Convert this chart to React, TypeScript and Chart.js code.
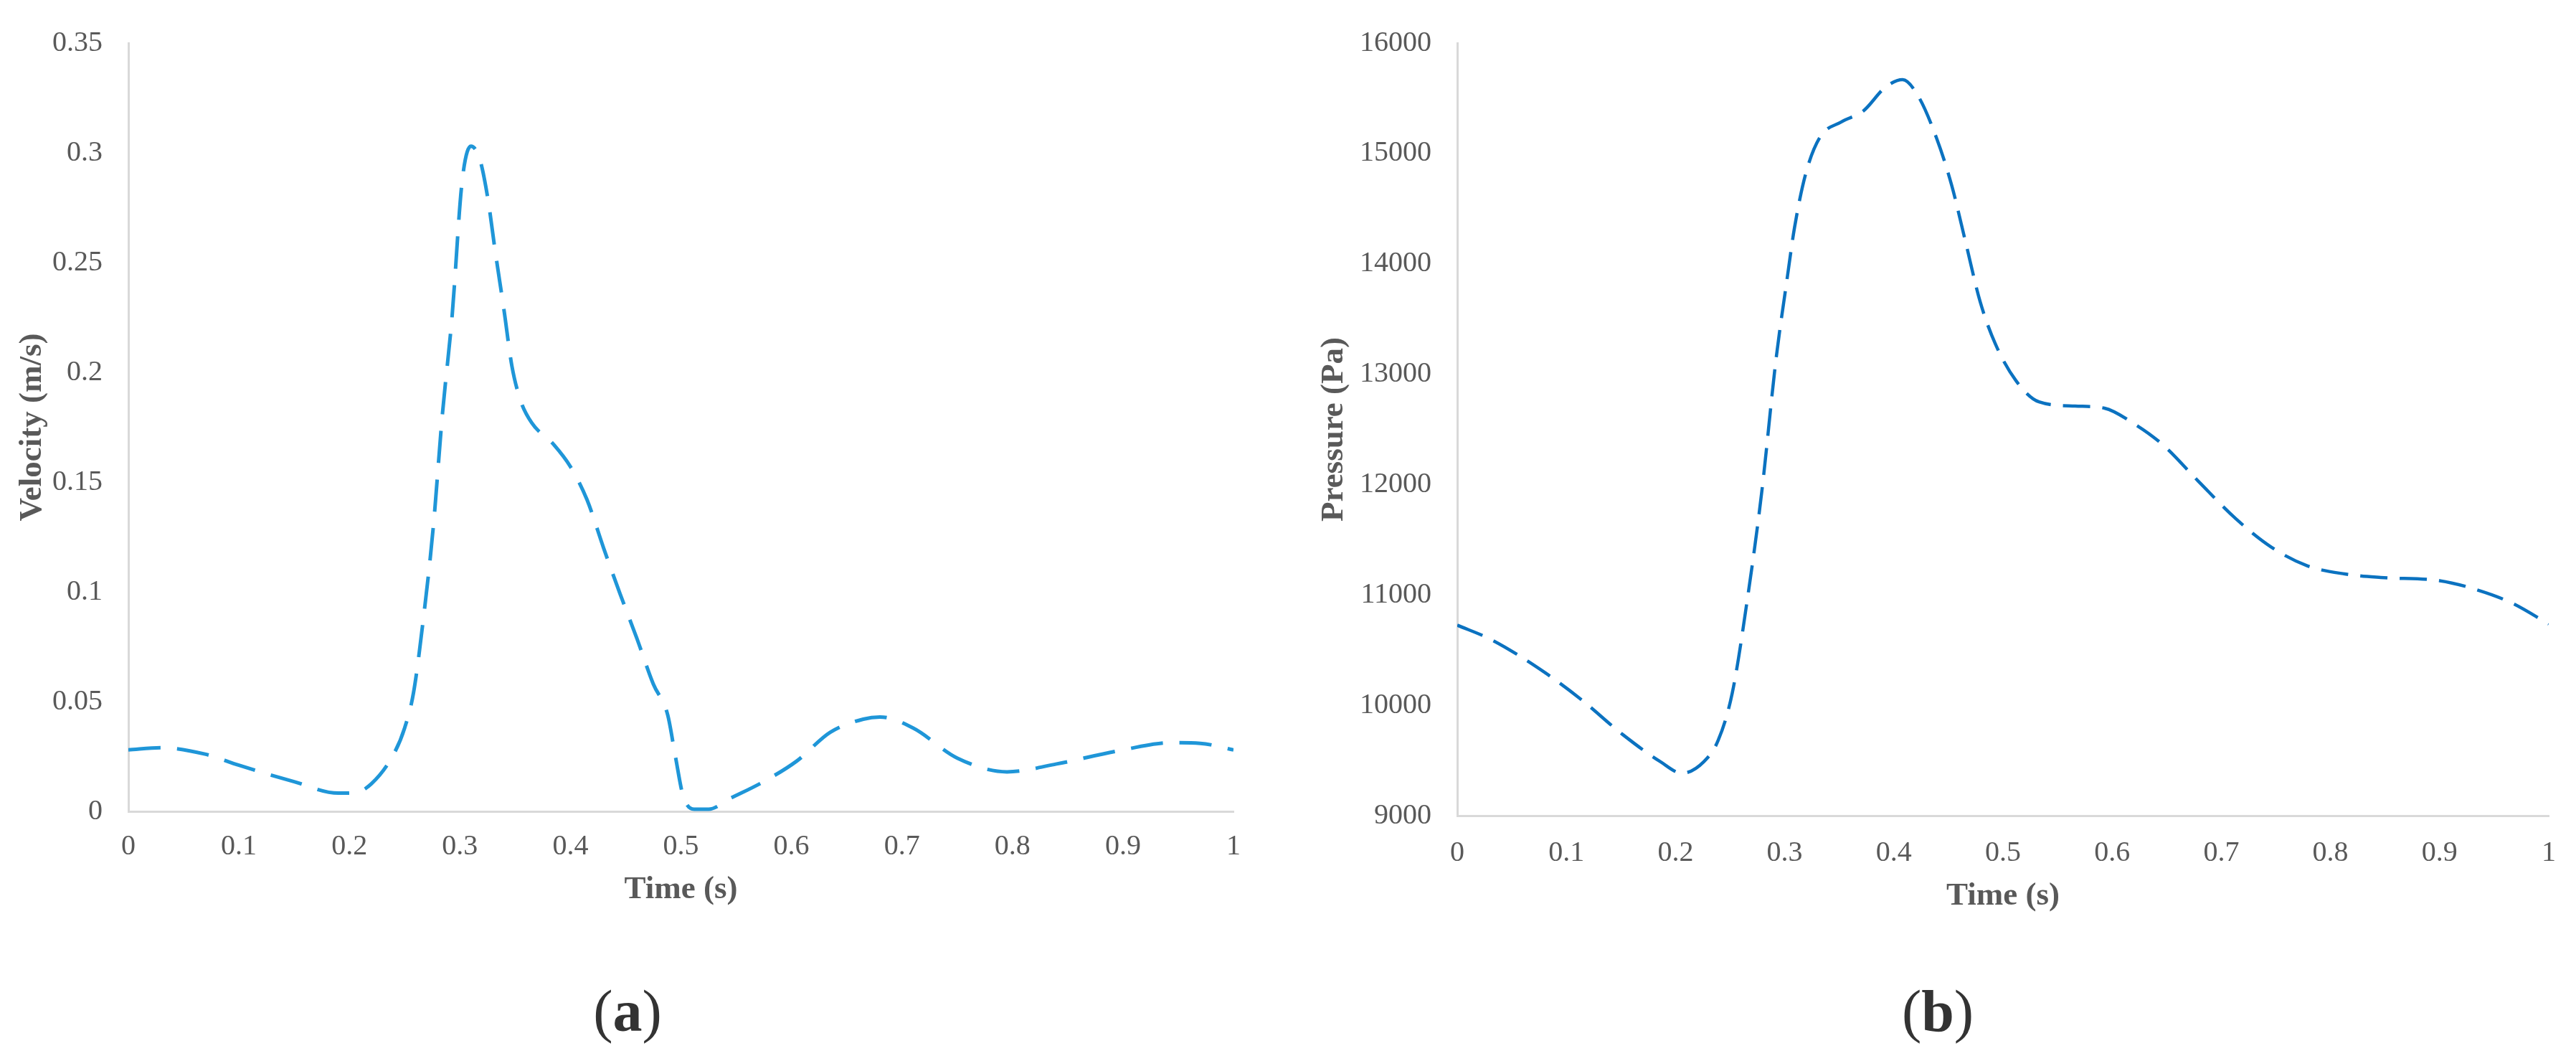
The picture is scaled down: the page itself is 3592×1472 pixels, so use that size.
import React, { useEffect, useRef } from "react";
import { Chart, registerables } from "chart.js";

Chart.register(...registerables);

// ---------- data ----------
const velocityTime = [
  0, 0.03, 0.07, 0.1, 0.15, 0.19, 0.205, 0.22, 0.24, 0.25, 0.258, 0.267, 0.276,
  0.284, 0.293, 0.302, 0.31, 0.318, 0.325, 0.332, 0.34, 0.347, 0.355, 0.365,
  0.385, 0.4, 0.415, 0.43, 0.445, 0.46, 0.475, 0.488, 0.495, 0.502, 0.512,
  0.525, 0.545, 0.575, 0.605, 0.635, 0.665, 0.68, 0.71, 0.75, 0.795, 0.84,
  0.895, 0.945, 0.97, 1.0,
];
const velocityValues = [
  0.028, 0.029, 0.026, 0.021, 0.0135, 0.0083, 0.0085, 0.0126, 0.026, 0.038,
  0.054, 0.088, 0.13, 0.18, 0.226, 0.287, 0.303, 0.297, 0.28, 0.255, 0.228,
  0.203, 0.187, 0.177, 0.167, 0.157, 0.142, 0.12, 0.099, 0.079, 0.058, 0.044,
  0.025, 0.007, 0.001, 0.001, 0.006, 0.0136, 0.023, 0.036, 0.042, 0.043, 0.038,
  0.0243, 0.018, 0.0216, 0.0275, 0.0313, 0.031, 0.028,
];

const pressureTime = [
  0, 0.032, 0.079, 0.112, 0.152, 0.186, 0.206, 0.226, 0.239, 0.252, 0.266,
  0.279, 0.292, 0.302, 0.309, 0.319, 0.332, 0.352, 0.372, 0.392, 0.408, 0.422,
  0.439, 0.453, 0.466, 0.479, 0.493, 0.512, 0.533, 0.566, 0.593, 0.619, 0.646,
  0.679, 0.713, 0.746, 0.779, 0.813, 0.846, 0.9, 0.933, 0.966, 1.0,
];
const pressureValues = [
  10726, 10591, 10305, 10065, 9732, 9490, 9385, 9490, 9681, 10113, 10975,
  11934, 13131, 13850, 14328, 14807, 15142, 15286, 15384, 15597, 15669, 15525,
  15142, 14711, 14185, 13659, 13274, 12940, 12749, 12711, 12692, 12558, 12364,
  12030, 11693, 11432, 11263, 11190, 11158, 11129, 11050, 10928, 10737,
];

const timeTickLabels = ["0", "0.1", "0.2", "0.3", "0.4", "0.5", "0.6", "0.7", "0.8", "0.9", "1"];
const velocityTickLabels = ["0", "0.05", "0.1", "0.15", "0.2", "0.25", "0.3", "0.35"];
const pressureTickLabels = ["9000", "10000", "11000", "12000", "13000", "14000", "15000", "16000"];

const xAxisTitle = "Time (s)";
const velocityTitle = "Velocity (m/s)";
const pressureTitle = "Pressure (Pa)";

// ---------- helpers ----------
const SERIF = "'Liberation Serif', 'Times New Roman', Times, serif";
const TICK_COLOR = "#595959";
const AXIS_COLOR = "#d9d9d9";

function labelFrom(list: string[]) {
  return (value: number | string) => {
    const v = Number(value);
    const hit = list.find((s) => Math.abs(Number(s) - v) < 1e-7 * Math.max(1, Math.abs(v)));
    return hit ?? "";
  };
}

interface PanelProps {
  left: number;
  width: number;
  height: number;
  times: number[];
  values: number[];
  color: string;
  lineWidth: number;
  dash: number[];
  yMin: number;
  yMax: number;
  yStep: number;
  yLabels: string[];
  yTitle: string;
  padTop: number;
  padRight: number;
  yAxisWidth: number;
  xAxisHeight: number;
  yTitlePad: number;
  xTitlePad: number;
  xTickPad: number;
}

function Panel(p: PanelProps) {
  const ref = useRef<HTMLCanvasElement | null>(null);

  useEffect(() => {
    if (!ref.current) return;
    const points = p.times.map((t, i) => ({ x: t, y: p.values[i] }));
    const chart = new Chart(ref.current, {
      type: "line",
      data: {
        datasets: [
          {
            data: points,
            borderColor: p.color,
            borderWidth: p.lineWidth,
            borderDash: p.dash,
            borderCapStyle: "butt",
            pointRadius: 0,
            fill: false,
            cubicInterpolationMode: "monotone",
          },
        ],
      },
      options: {
        animation: false,
        responsive: false,
        devicePixelRatio: 1,
        layout: { padding: { top: p.padTop, right: p.padRight, left: 0, bottom: 0 } },
        plugins: { legend: { display: false }, tooltip: { enabled: false } },
        scales: {
          x: {
            type: "linear",
            min: 0,
            max: 1,
            ticks: {
              stepSize: 0.1,
              maxRotation: 0,
              autoSkip: false,
              padding: p.xTickPad,
              color: TICK_COLOR,
              font: { family: SERIF, size: 40 },
              callback: labelFrom(timeTickLabels),
            },
            grid: { display: false, drawTicks: false },
            border: { display: true, color: AXIS_COLOR, width: 3 },
            title: {
              display: true,
              text: xAxisTitle,
              color: TICK_COLOR,
              font: { family: SERIF, size: 45, weight: "bold" },
              padding: { top: 0, bottom: p.xTitlePad },
            },
            afterFit: (scale: any) => {
              scale.height = p.xAxisHeight;
            },
          },
          y: {
            type: "linear",
            min: p.yMin,
            max: p.yMax,
            ticks: {
              stepSize: p.yStep,
              padding: 36,
              color: TICK_COLOR,
              font: { family: SERIF, size: 40 },
              callback: labelFrom(p.yLabels),
            },
            grid: { display: false, drawTicks: false },
            border: { display: true, color: AXIS_COLOR, width: 3 },
            title: {
              display: true,
              text: p.yTitle,
              color: TICK_COLOR,
              font: { family: SERIF, size: 45, weight: "bold" },
              padding: { top: p.yTitlePad, bottom: 0 },
            },
            afterFit: (scale: any) => {
              scale.width = p.yAxisWidth;
            },
          },
        },
      } as any,
    });
    return () => chart.destroy();
  }, []);

  return (
    <canvas
      ref={ref}
      width={p.width}
      height={p.height}
      style={{ position: "absolute", left: p.left, top: 0, width: p.width, height: p.height }}
    />
  );
}

function PanelLabel({ x, letter }: { x: number; letter: string }) {
  return (
    <div
      style={{
        position: "absolute",
        left: x,
        top: 1410,
        transform: "translate(-50%, -50%)",
        fontFamily: SERIF,
        fontSize: 82,
        color: "#333333",
        lineHeight: 1,
        whiteSpace: "nowrap",
      }}
    >
      (<b>{letter}</b>)
    </div>
  );
}

export default function App() {
  return (
    <div
      style={{
        position: "absolute",
        left: 0,
        top: 0,
        width: 3592,
        height: 1472,
        background: "#ffffff",
        overflow: "hidden",
      }}
    >
      <Panel
        left={0}
        width={1790}
        height={1300}
        times={velocityTime}
        values={velocityValues}
        color="#1f96d8"
        lineWidth={5}
        dash={[45, 23]}
        yMin={0}
        yMax={0.35}
        yStep={0.05}
        yLabels={velocityTickLabels}
        yTitle={velocityTitle}
        padTop={46}
        padRight={70}
        yAxisWidth={179}
        xAxisHeight={169}
        yTitlePad={18}
        xTitlePad={33}
        xTickPad={25}
      />
      <Panel
        left={1800}
        width={1792}
        height={1300}
        times={pressureTime}
        values={pressureValues}
        color="#0b72c0"
        lineWidth={4.5}
        dash={[38, 17]}
        yMin={9000}
        yMax={16000}
        yStep={1000}
        yLabels={pressureTickLabels}
        yTitle={pressureTitle}
        padTop={36}
        padRight={38}
        yAxisWidth={232}
        xAxisHeight={163}
        yTitlePad={33}
        xTitlePad={24}
        xTickPad={28}
      />
      <PanelLabel x={875} letter="a" />
      <PanelLabel x={2702} letter="b" />
    </div>
  );
}
